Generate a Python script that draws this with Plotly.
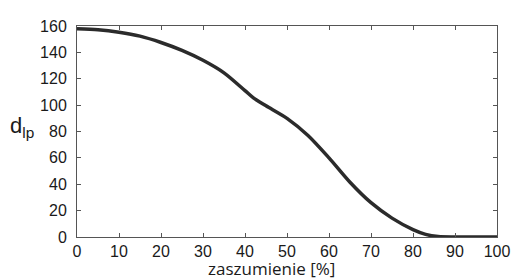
import plotly.graph_objects as go

noise_pct = [0, 5, 10, 15, 20, 25, 30, 35, 40, 42, 45, 50, 55, 60, 65, 70, 75, 80, 83, 86, 90, 95, 100]
d_lp = [158, 157.2, 155.3, 152.3, 147.5, 141.5, 134, 124.5, 111, 105.5, 99.5, 90, 77, 60, 41.5, 26, 14.3, 5.6, 2, 0.3, 0, 0, 0]

x_ticks = [0, 10, 20, 30, 40, 50, 60, 70, 80, 90, 100]
y_ticks = [0, 20, 40, 60, 80, 100, 120, 140, 160]

fig = go.Figure()
fig.add_trace(go.Scatter(x=noise_pct, y=d_lp, mode="lines",
                         line=dict(color="#2b2b2b", width=3.5, shape="spline", smoothing=0.8),
                         showlegend=False, cliponaxis=False))

font = dict(family="Liberation Sans, Arial, sans-serif", size=16, color="#1a1a1a")
axis_common = dict(showline=True, linecolor="#555555", linewidth=1, mirror="ticks",
                   ticks="inside", ticklen=4, tickcolor="#555555", showgrid=False,
                   zeroline=False, tickfont=font, automargin=False)

fig.update_layout(
    width=513, height=278,
    margin=dict(l=77, r=16, t=26, b=41),
    paper_bgcolor="white", plot_bgcolor="white",
    xaxis=dict(range=[0, 100], tickvals=x_ticks, **axis_common),
    yaxis=dict(range=[0, 160], tickvals=y_ticks, ticklabelstandoff=6, **axis_common),
    annotations=[
        dict(text="zaszumienie [%]", xref="paper", yref="paper", x=0.463, y=-0.147,
             xanchor="center", yanchor="middle", showarrow=False,
             font=dict(family="Open Sans, sans-serif", size=17, color="#1a1a1a")),
        dict(text="d<sub>lp</sub>", xref="paper", yref="paper", x=-0.132, y=0.52,
             xanchor="center", yanchor="middle", showarrow=False,
             font=dict(family="Liberation Sans, Arial, sans-serif", size=22, color="#1a1a1a")),
    ],
)
fig.write_html("out.html", config={"displayModeBar": False},
               post_script="document.body.style.margin='0';document.body.style.overflow='hidden';")
